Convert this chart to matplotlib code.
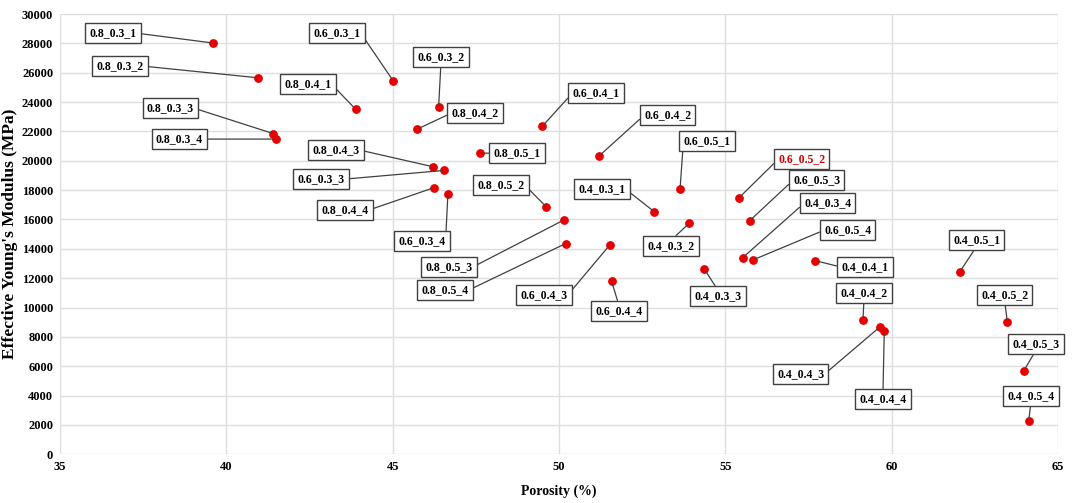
import matplotlib
matplotlib.use('Agg')
import matplotlib.pyplot as plt

plt.rcParams['font.family'] = ['Liberation Serif', 'DejaVu Serif']
plt.rcParams['font.weight'] = 'bold'

names = ['0.8_0.3_1', '0.8_0.3_2', '0.8_0.3_3', '0.8_0.3_4',
         '0.8_0.4_1', '0.8_0.4_2', '0.8_0.4_3', '0.8_0.4_4',
         '0.8_0.5_1', '0.8_0.5_2', '0.8_0.5_3', '0.8_0.5_4',
         '0.6_0.3_1', '0.6_0.3_2', '0.6_0.3_3', '0.6_0.3_4',
         '0.6_0.4_1', '0.6_0.4_2', '0.6_0.4_3', '0.6_0.4_4',
         '0.6_0.5_1', '0.6_0.5_2', '0.6_0.5_3', '0.6_0.5_4',
         '0.4_0.3_1', '0.4_0.3_2', '0.4_0.3_3', '0.4_0.3_4',
         '0.4_0.4_1', '0.4_0.4_2', '0.4_0.4_3', '0.4_0.4_4',
         '0.4_0.5_1', '0.4_0.5_2', '0.4_0.5_3', '0.4_0.5_4']

porosity = [39.59, 40.94, 41.40, 41.49,
            43.89, 45.72, 46.22, 46.23,
            47.63, 49.62, 50.16, 50.20,
            45.02, 46.38, 46.53, 46.66,
            49.50, 51.19, 51.53, 51.58,
            53.64, 55.40, 55.73, 55.84,
            52.87, 53.91, 54.37, 55.52,
            57.69, 59.14, 59.65, 59.78,
            62.05, 63.48, 63.98, 64.12]

modulus = [28030, 25660, 21860, 21480,
           23500, 22140, 19590, 18160,
           20520, 16860, 15980, 14360,
           25430, 23660, 19340, 17770,
           22360, 20300, 14270, 11800,
           18110, 17450, 15910, 13250,
           16520, 15730, 12610, 13390,
           13200, 9180, 8680, 8410,
           12430, 9020, 5700, 2230]

# where each data label box sits (data units)
label_x = [36.59, 36.80, 38.31, 38.58,
           42.45, 47.47, 43.30, 43.57,
           48.74, 48.26, 46.69, 46.57,
           43.33, 46.45, 42.84, 45.88,
           51.11, 53.27, 49.55, 51.80,
           54.45, 57.30, 57.75, 58.68,
           51.29, 53.37, 54.78, 58.08,
           59.20, 59.17, 57.27, 59.74,
           62.56, 63.40, 64.34, 64.19]
label_y = [28700, 26450, 23590, 21480,
           25230, 23250, 20730, 16640,
           20520, 18340, 12750, 11180,
           28700, 27070, 18750, 14520,
           24610, 23110, 10840, 9750,
           21340, 20110, 18680, 15270,
           18070, 14180, 10770, 17110,
           12750, 10980, 5450, 3750,
           14590, 10840, 7500, 3950]

fig, ax = plt.subplots(figsize=(10.74, 5.03), dpi=100)
fig.subplots_adjust(left=0.056, right=0.985, bottom=0.097, top=0.972)

ax.scatter(porosity, modulus, s=28, color='#e60000', zorder=3)

for n, px, py, lx, ly in zip(names, porosity, modulus, label_x, label_y):
    dx = (px - lx) * 33.3
    dy = (py - ly) * 0.01467
    if abs(dx) > 20:
        rel = (1 if dx > 0 else 0, 0.5)
    else:
        rel = (0.5, 1 if dy > 0 else 0)
    col = '#d00000' if n == '0.6_0.5_2' else 'black'
    ax.annotate(n, xy=(px, py), xytext=(lx, ly), ha='center', va='center',
                fontsize=8.5, fontweight='bold', color=col, zorder=4,
                bbox=dict(boxstyle='square,pad=0.35', fc='white', ec='#404040', lw=1),
                arrowprops=dict(arrowstyle='-', color='#404040', lw=0.9,
                                relpos=rel, shrinkA=0, shrinkB=2))

ax.set_xlim(35, 65)
ax.set_ylim(0, 30000)
ax.set_xticks(range(35, 66, 5))
ax.set_yticks(range(0, 30001, 2000))
ax.grid(True, color='#dedede', lw=1)
ax.set_axisbelow(True)
for s in ax.spines.values():
    s.set_visible(False)
ax.tick_params(length=0, labelsize=9, pad=5)
ax.set_xlabel('Porosity (%)', fontsize=10, fontweight='bold')
ax.xaxis.set_label_coords(0.5, -0.068)
ax.set_ylabel("Effective Young's Modulus (MPa)", fontsize=12.5, fontweight='bold')
ax.yaxis.set_label_coords(-0.042, 0.5)

plt.savefig('out.png', dpi=100)
